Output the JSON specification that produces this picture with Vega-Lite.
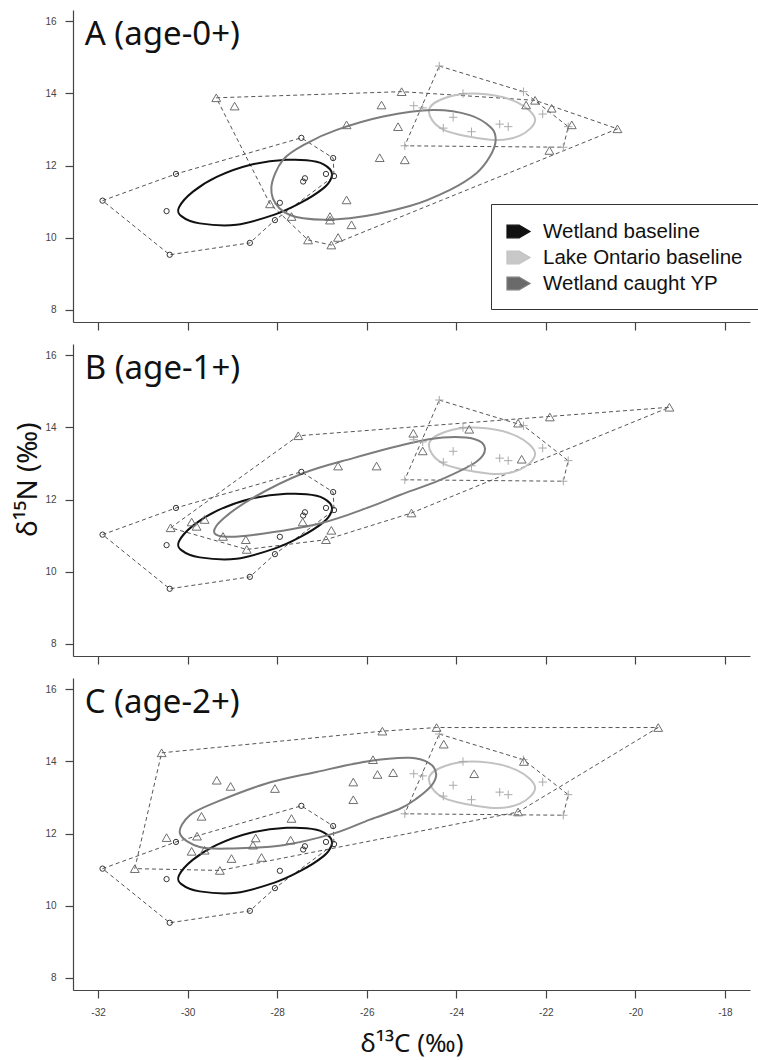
{
  "$schema": "https://vega.github.io/schema/vega-lite/v6.json",
  "background": "white",
  "padding": {"left": 14, "top": 10, "right": 0, "bottom": 4},
  "spacing": 13,
  "datasets": {
    "pts": [
      {"p":"all","g":"Wetland baseline","x":-31.90,"y":11.03},
      {"p":"all","g":"Wetland baseline","x":-30.26,"y":11.77},
      {"p":"all","g":"Wetland baseline","x":-30.47,"y":10.74},
      {"p":"all","g":"Wetland baseline","x":-30.40,"y":9.53},
      {"p":"all","g":"Wetland baseline","x":-28.61,"y":9.86},
      {"p":"all","g":"Wetland baseline","x":-28.05,"y":10.49},
      {"p":"all","g":"Wetland baseline","x":-27.94,"y":10.97},
      {"p":"all","g":"Wetland baseline","x":-27.46,"y":12.77},
      {"p":"all","g":"Wetland baseline","x":-26.75,"y":12.21},
      {"p":"all","g":"Wetland baseline","x":-26.73,"y":11.71},
      {"p":"all","g":"Wetland baseline","x":-26.91,"y":11.77},
      {"p":"all","g":"Wetland baseline","x":-27.38,"y":11.65},
      {"p":"all","g":"Wetland baseline","x":-27.42,"y":11.56},
      {"p":"all","g":"Lake Ontario baseline","x":-24.38,"y":14.76},
      {"p":"all","g":"Lake Ontario baseline","x":-22.50,"y":14.05},
      {"p":"all","g":"Lake Ontario baseline","x":-21.50,"y":13.08},
      {"p":"all","g":"Lake Ontario baseline","x":-21.61,"y":12.51},
      {"p":"all","g":"Lake Ontario baseline","x":-25.15,"y":12.55},
      {"p":"all","g":"Lake Ontario baseline","x":-23.85,"y":14.00},
      {"p":"all","g":"Lake Ontario baseline","x":-24.07,"y":13.34},
      {"p":"all","g":"Lake Ontario baseline","x":-24.29,"y":13.04},
      {"p":"all","g":"Lake Ontario baseline","x":-23.66,"y":12.94},
      {"p":"all","g":"Lake Ontario baseline","x":-23.03,"y":13.15},
      {"p":"all","g":"Lake Ontario baseline","x":-22.84,"y":13.08},
      {"p":"all","g":"Lake Ontario baseline","x":-22.07,"y":13.43},
      {"p":"all","g":"Lake Ontario baseline","x":-24.95,"y":13.66},
      {"p":"all","g":"Lake Ontario baseline","x":-24.75,"y":13.60},
      {"p":"A","g":"Wetland caught YP","x":-29.36,"y":13.88},
      {"p":"A","g":"Wetland caught YP","x":-28.95,"y":13.65},
      {"p":"A","g":"Wetland caught YP","x":-28.16,"y":10.94},
      {"p":"A","g":"Wetland caught YP","x":-27.68,"y":10.59},
      {"p":"A","g":"Wetland caught YP","x":-27.31,"y":9.94},
      {"p":"A","g":"Wetland caught YP","x":-26.79,"y":9.80},
      {"p":"A","g":"Wetland caught YP","x":-26.64,"y":10.01},
      {"p":"A","g":"Wetland caught YP","x":-26.82,"y":10.59},
      {"p":"A","g":"Wetland caught YP","x":-26.82,"y":10.49},
      {"p":"A","g":"Wetland caught YP","x":-26.34,"y":10.36},
      {"p":"A","g":"Wetland caught YP","x":-26.45,"y":11.05},
      {"p":"A","g":"Wetland caught YP","x":-26.45,"y":13.13},
      {"p":"A","g":"Wetland caught YP","x":-25.71,"y":12.22},
      {"p":"A","g":"Wetland caught YP","x":-25.15,"y":12.16},
      {"p":"A","g":"Wetland caught YP","x":-25.30,"y":13.08},
      {"p":"A","g":"Wetland caught YP","x":-25.67,"y":13.68},
      {"p":"A","g":"Wetland caught YP","x":-25.22,"y":14.05},
      {"p":"A","g":"Wetland caught YP","x":-22.44,"y":13.68},
      {"p":"A","g":"Wetland caught YP","x":-22.24,"y":13.81},
      {"p":"A","g":"Wetland caught YP","x":-21.87,"y":13.59},
      {"p":"A","g":"Wetland caught YP","x":-21.42,"y":13.13},
      {"p":"A","g":"Wetland caught YP","x":-20.40,"y":13.02},
      {"p":"A","g":"Wetland caught YP","x":-21.92,"y":12.42},
      {"p":"B","g":"Wetland caught YP","x":-27.53,"y":13.77},
      {"p":"B","g":"Wetland caught YP","x":-26.64,"y":12.93},
      {"p":"B","g":"Wetland caught YP","x":-25.78,"y":12.93},
      {"p":"B","g":"Wetland caught YP","x":-30.38,"y":11.22},
      {"p":"B","g":"Wetland caught YP","x":-29.91,"y":11.38},
      {"p":"B","g":"Wetland caught YP","x":-29.80,"y":11.26},
      {"p":"B","g":"Wetland caught YP","x":-29.62,"y":11.45},
      {"p":"B","g":"Wetland caught YP","x":-29.21,"y":10.98},
      {"p":"B","g":"Wetland caught YP","x":-28.70,"y":10.89},
      {"p":"B","g":"Wetland caught YP","x":-28.68,"y":10.62},
      {"p":"B","g":"Wetland caught YP","x":-27.43,"y":11.38},
      {"p":"B","g":"Wetland caught YP","x":-26.79,"y":11.15},
      {"p":"B","g":"Wetland caught YP","x":-26.91,"y":10.89},
      {"p":"B","g":"Wetland caught YP","x":-24.96,"y":13.84},
      {"p":"B","g":"Wetland caught YP","x":-24.75,"y":13.35},
      {"p":"B","g":"Wetland caught YP","x":-23.71,"y":13.95},
      {"p":"B","g":"Wetland caught YP","x":-22.62,"y":14.12},
      {"p":"B","g":"Wetland caught YP","x":-21.91,"y":14.29},
      {"p":"B","g":"Wetland caught YP","x":-19.24,"y":14.56},
      {"p":"B","g":"Wetland caught YP","x":-22.54,"y":13.12},
      {"p":"B","g":"Wetland caught YP","x":-25.00,"y":11.63},
      {"p":"C","g":"Wetland caught YP","x":-30.58,"y":14.24},
      {"p":"C","g":"Wetland caught YP","x":-29.35,"y":13.48},
      {"p":"C","g":"Wetland caught YP","x":-29.04,"y":13.31},
      {"p":"C","g":"Wetland caught YP","x":-28.05,"y":13.25},
      {"p":"C","g":"Wetland caught YP","x":-29.69,"y":12.48},
      {"p":"C","g":"Wetland caught YP","x":-30.47,"y":11.89},
      {"p":"C","g":"Wetland caught YP","x":-29.79,"y":11.93},
      {"p":"C","g":"Wetland caught YP","x":-29.91,"y":11.51},
      {"p":"C","g":"Wetland caught YP","x":-29.62,"y":11.54},
      {"p":"C","g":"Wetland caught YP","x":-31.18,"y":11.03},
      {"p":"C","g":"Wetland caught YP","x":-29.28,"y":10.98},
      {"p":"C","g":"Wetland caught YP","x":-29.02,"y":11.31},
      {"p":"C","g":"Wetland caught YP","x":-28.35,"y":11.34},
      {"p":"C","g":"Wetland caught YP","x":-28.48,"y":11.88},
      {"p":"C","g":"Wetland caught YP","x":-28.54,"y":11.68},
      {"p":"C","g":"Wetland caught YP","x":-27.68,"y":12.42},
      {"p":"C","g":"Wetland caught YP","x":-27.70,"y":11.82},
      {"p":"C","g":"Wetland caught YP","x":-26.30,"y":13.43},
      {"p":"C","g":"Wetland caught YP","x":-26.30,"y":12.94},
      {"p":"C","g":"Wetland caught YP","x":-25.86,"y":14.05},
      {"p":"C","g":"Wetland caught YP","x":-25.76,"y":13.64},
      {"p":"C","g":"Wetland caught YP","x":-25.41,"y":13.69},
      {"p":"C","g":"Wetland caught YP","x":-25.65,"y":14.84},
      {"p":"C","g":"Wetland caught YP","x":-24.44,"y":14.94},
      {"p":"C","g":"Wetland caught YP","x":-24.28,"y":14.48},
      {"p":"C","g":"Wetland caught YP","x":-23.60,"y":13.66},
      {"p":"C","g":"Wetland caught YP","x":-22.49,"y":14.00},
      {"p":"C","g":"Wetland caught YP","x":-19.49,"y":14.94},
      {"p":"C","g":"Wetland caught YP","x":-22.62,"y":12.60}
    ],
    "hull": [
      {"p":"all","g":"Wetland baseline","i":1,"x":-31.90,"y":11.03},
      {"p":"all","g":"Wetland baseline","i":2,"x":-30.26,"y":11.77},
      {"p":"all","g":"Wetland baseline","i":3,"x":-27.46,"y":12.77},
      {"p":"all","g":"Wetland baseline","i":4,"x":-26.75,"y":12.21},
      {"p":"all","g":"Wetland baseline","i":5,"x":-26.73,"y":11.71},
      {"p":"all","g":"Wetland baseline","i":6,"x":-28.05,"y":10.49},
      {"p":"all","g":"Wetland baseline","i":7,"x":-28.61,"y":9.86},
      {"p":"all","g":"Wetland baseline","i":8,"x":-30.40,"y":9.53},
      {"p":"all","g":"Lake Ontario baseline","i":1,"x":-24.38,"y":14.76},
      {"p":"all","g":"Lake Ontario baseline","i":2,"x":-22.50,"y":14.05},
      {"p":"all","g":"Lake Ontario baseline","i":3,"x":-21.50,"y":13.08},
      {"p":"all","g":"Lake Ontario baseline","i":4,"x":-21.61,"y":12.51},
      {"p":"all","g":"Lake Ontario baseline","i":5,"x":-25.15,"y":12.55},
      {"p":"A","g":"Wetland caught YP","i":1,"x":-29.36,"y":13.88},
      {"p":"A","g":"Wetland caught YP","i":2,"x":-25.22,"y":14.05},
      {"p":"A","g":"Wetland caught YP","i":3,"x":-22.24,"y":13.81},
      {"p":"A","g":"Wetland caught YP","i":4,"x":-20.40,"y":13.02},
      {"p":"A","g":"Wetland caught YP","i":5,"x":-26.79,"y":9.80},
      {"p":"A","g":"Wetland caught YP","i":6,"x":-27.31,"y":9.94},
      {"p":"A","g":"Wetland caught YP","i":7,"x":-28.16,"y":10.94},
      {"p":"B","g":"Wetland caught YP","i":1,"x":-30.38,"y":11.22},
      {"p":"B","g":"Wetland caught YP","i":2,"x":-27.53,"y":13.77},
      {"p":"B","g":"Wetland caught YP","i":3,"x":-19.24,"y":14.56},
      {"p":"B","g":"Wetland caught YP","i":4,"x":-25.00,"y":11.63},
      {"p":"B","g":"Wetland caught YP","i":5,"x":-26.91,"y":10.89},
      {"p":"B","g":"Wetland caught YP","i":6,"x":-28.68,"y":10.62},
      {"p":"C","g":"Wetland caught YP","i":1,"x":-31.18,"y":11.03},
      {"p":"C","g":"Wetland caught YP","i":2,"x":-30.58,"y":14.24},
      {"p":"C","g":"Wetland caught YP","i":3,"x":-25.65,"y":14.84},
      {"p":"C","g":"Wetland caught YP","i":4,"x":-24.44,"y":14.94},
      {"p":"C","g":"Wetland caught YP","i":5,"x":-19.49,"y":14.94},
      {"p":"C","g":"Wetland caught YP","i":6,"x":-22.62,"y":12.60},
      {"p":"C","g":"Wetland caught YP","i":7,"x":-29.28,"y":10.98}
    ],
    "ell": [
      {"p":"all","s":"Wetland baseline","i":1,"x":-30.19,"y":10.85},
      {"p":"all","s":"Wetland baseline","i":2,"x":-29.88,"y":11.28},
      {"p":"all","s":"Wetland baseline","i":3,"x":-29.35,"y":11.69},
      {"p":"all","s":"Wetland baseline","i":4,"x":-28.61,"y":12.02},
      {"p":"all","s":"Wetland baseline","i":5,"x":-27.79,"y":12.16},
      {"p":"all","s":"Wetland baseline","i":6,"x":-27.12,"y":12.11},
      {"p":"all","s":"Wetland baseline","i":7,"x":-26.82,"y":11.90},
      {"p":"all","s":"Wetland baseline","i":8,"x":-26.79,"y":11.66},
      {"p":"all","s":"Wetland baseline","i":9,"x":-26.97,"y":11.37},
      {"p":"all","s":"Wetland baseline","i":10,"x":-27.49,"y":10.96},
      {"p":"all","s":"Wetland baseline","i":11,"x":-28.09,"y":10.63},
      {"p":"all","s":"Wetland baseline","i":12,"x":-28.91,"y":10.36},
      {"p":"all","s":"Wetland baseline","i":13,"x":-29.73,"y":10.40},
      {"p":"all","s":"Wetland baseline","i":14,"x":-30.14,"y":10.60},
      {"p":"all","s":"Lake Ontario baseline","i":1,"x":-24.61,"y":13.53},
      {"p":"all","s":"Lake Ontario baseline","i":2,"x":-24.22,"y":13.89},
      {"p":"all","s":"Lake Ontario baseline","i":3,"x":-23.47,"y":13.99},
      {"p":"all","s":"Lake Ontario baseline","i":4,"x":-22.65,"y":13.76},
      {"p":"all","s":"Lake Ontario baseline","i":5,"x":-22.24,"y":13.28},
      {"p":"all","s":"Lake Ontario baseline","i":6,"x":-22.58,"y":12.83},
      {"p":"all","s":"Lake Ontario baseline","i":7,"x":-23.25,"y":12.72},
      {"p":"all","s":"Lake Ontario baseline","i":8,"x":-24.29,"y":13.00},
      {"p":"A","s":"Wetland caught YP","i":1,"x":-28.13,"y":11.40},
      {"p":"A","s":"Wetland caught YP","i":2,"x":-27.87,"y":12.16},
      {"p":"A","s":"Wetland caught YP","i":3,"x":-27.34,"y":12.62},
      {"p":"A","s":"Wetland caught YP","i":4,"x":-26.67,"y":12.99},
      {"p":"A","s":"Wetland caught YP","i":5,"x":-25.63,"y":13.36},
      {"p":"A","s":"Wetland caught YP","i":6,"x":-24.52,"y":13.54},
      {"p":"A","s":"Wetland caught YP","i":7,"x":-23.70,"y":13.40},
      {"p":"A","s":"Wetland caught YP","i":8,"x":-23.22,"y":13.05},
      {"p":"A","s":"Wetland caught YP","i":9,"x":-23.12,"y":12.70},
      {"p":"A","s":"Wetland caught YP","i":10,"x":-23.25,"y":12.25},
      {"p":"A","s":"Wetland caught YP","i":11,"x":-23.55,"y":11.79},
      {"p":"A","s":"Wetland caught YP","i":12,"x":-24.14,"y":11.33},
      {"p":"A","s":"Wetland caught YP","i":13,"x":-25.04,"y":10.88},
      {"p":"A","s":"Wetland caught YP","i":14,"x":-26.38,"y":10.54},
      {"p":"A","s":"Wetland caught YP","i":15,"x":-27.42,"y":10.54},
      {"p":"A","s":"Wetland caught YP","i":16,"x":-27.95,"y":10.82},
      {"p":"B","s":"Wetland caught YP","i":1,"x":-29.41,"y":11.12},
      {"p":"B","s":"Wetland caught YP","i":2,"x":-29.20,"y":11.48},
      {"p":"B","s":"Wetland caught YP","i":3,"x":-28.54,"y":12.05},
      {"p":"B","s":"Wetland caught YP","i":4,"x":-27.42,"y":12.73},
      {"p":"B","s":"Wetland caught YP","i":5,"x":-26.30,"y":13.15},
      {"p":"B","s":"Wetland caught YP","i":6,"x":-25.04,"y":13.56},
      {"p":"B","s":"Wetland caught YP","i":7,"x":-24.30,"y":13.72},
      {"p":"B","s":"Wetland caught YP","i":8,"x":-23.60,"y":13.68},
      {"p":"B","s":"Wetland caught YP","i":9,"x":-23.36,"y":13.42},
      {"p":"B","s":"Wetland caught YP","i":10,"x":-23.55,"y":13.05},
      {"p":"B","s":"Wetland caught YP","i":11,"x":-24.37,"y":12.54},
      {"p":"B","s":"Wetland caught YP","i":12,"x":-25.26,"y":12.13},
      {"p":"B","s":"Wetland caught YP","i":13,"x":-25.93,"y":11.80},
      {"p":"B","s":"Wetland caught YP","i":14,"x":-27.05,"y":11.34},
      {"p":"B","s":"Wetland caught YP","i":15,"x":-28.54,"y":11.02},
      {"p":"B","s":"Wetland caught YP","i":16,"x":-29.21,"y":10.98},
      {"p":"C","s":"Wetland caught YP","i":1,"x":-30.17,"y":12.00},
      {"p":"C","s":"Wetland caught YP","i":2,"x":-29.95,"y":12.51},
      {"p":"C","s":"Wetland caught YP","i":3,"x":-29.35,"y":12.88},
      {"p":"C","s":"Wetland caught YP","i":4,"x":-28.24,"y":13.39},
      {"p":"C","s":"Wetland caught YP","i":5,"x":-27.12,"y":13.71},
      {"p":"C","s":"Wetland caught YP","i":6,"x":-26.00,"y":14.00},
      {"p":"C","s":"Wetland caught YP","i":7,"x":-25.04,"y":14.10},
      {"p":"C","s":"Wetland caught YP","i":8,"x":-24.60,"y":13.95},
      {"p":"C","s":"Wetland caught YP","i":9,"x":-24.45,"y":13.66},
      {"p":"C","s":"Wetland caught YP","i":10,"x":-24.55,"y":13.34},
      {"p":"C","s":"Wetland caught YP","i":11,"x":-24.89,"y":12.97},
      {"p":"C","s":"Wetland caught YP","i":12,"x":-25.26,"y":12.69},
      {"p":"C","s":"Wetland caught YP","i":13,"x":-25.93,"y":12.39},
      {"p":"C","s":"Wetland caught YP","i":14,"x":-26.75,"y":12.00},
      {"p":"C","s":"Wetland caught YP","i":15,"x":-27.87,"y":11.68},
      {"p":"C","s":"Wetland caught YP","i":16,"x":-28.98,"y":11.59},
      {"p":"C","s":"Wetland caught YP","i":17,"x":-29.73,"y":11.63}
    ],
    "labels": [
      {"p":"A","label":"A (age-0+)"},
      {"p":"B","label":"B (age-1+)"},
      {"p":"C","label":"C (age-2+)"}
    ]
  },
  "vconcat": [
    {
      "width": 677, "height": 312,
      "layer": [
        {"data": {"name": "hull"}, "transform": [{"filter": "datum.p == 'all' || datum.p == 'A'"}],
         "mark": {"type": "line", "interpolate": "linear-closed", "strokeDash": [4,3], "strokeWidth": 1, "color": "#555"},
         "encoding": {
           "x": {"field": "x", "type": "quantitative", "scale": {"domain": [-32.56, -17.44], "nice": false, "zero": false}, "axis": {"values": [-32,-30,-28,-26,-24,-22,-20,-18], "labels": false, "title": null}},
           "y": {"field": "y", "type": "quantitative", "scale": {"domain": [7.667, 16.313], "nice": false, "zero": false}, "axis": {"values": [8,10,12,14,16], "title": null}},
           "detail": {"field": "g"}, "order": {"field": "i", "type": "quantitative"}}},
        {"data": {"name": "ell"}, "transform": [{"filter": "datum.p == 'all' || datum.p == 'A'"}],
         "mark": {"type": "line", "interpolate": "cardinal-closed", "strokeWidth": 2},
         "encoding": {
           "x": {"field": "x", "type": "quantitative", "scale": {"domain": [-32.56, -17.44], "nice": false, "zero": false}, "axis": {"values": [-32,-30,-28,-26,-24,-22,-20,-18], "labels": false, "title": null}},
           "y": {"field": "y", "type": "quantitative", "scale": {"domain": [7.667, 16.313], "nice": false, "zero": false}, "axis": {"values": [8,10,12,14,16], "title": null}},
           "order": {"field": "i", "type": "quantitative"},
           "color": {"field": "s", "type": "nominal",
             "scale": {"domain": ["Wetland baseline", "Lake Ontario baseline", "Wetland caught YP"], "range": ["#111111", "#c2c2c2", "#7c7c7c"]},
             "legend": {"orient": "none", "legendX": 418, "legendY": 194, "title": null,
               "symbolType": "M-1,-0.55H0.05L1,0L0.05,0.55H-1Z", "symbolSize": 529, "symbolStrokeWidth": 1.2,
               "labelFont": "Liberation Sans", "labelFontSize": 20.5, "labelColor": "#111", "labelOffset": 12, "labelLimit": 300,
               "rowPadding": 3, "padding": 15, "strokeColor": "#333", "fillColor": "white",
               "encode": {"symbols": {"update": {
                 "fill": {"signal": "datum.value == 'Wetland baseline' ? '#111111' : datum.value == 'Lake Ontario baseline' ? '#c8c8c8' : '#6a6a6a'"},
                 "stroke": {"value": "#222"}, "opacity": {"value": 1}, "fillOpacity": {"value": 1}}}}}}
         }},
        {"data": {"name": "pts"}, "transform": [{"filter": "datum.g == 'Wetland baseline'"}],
         "mark": {"type": "point", "shape": "circle", "size": 28, "filled": false, "stroke": "#333", "strokeWidth": 1, "opacity": 1},
         "encoding": {
           "x": {"field": "x", "type": "quantitative", "scale": {"domain": [-32.56, -17.44], "nice": false, "zero": false}, "axis": {"values": [-32,-30,-28,-26,-24,-22,-20,-18], "labels": false, "title": null}},
           "y": {"field": "y", "type": "quantitative", "scale": {"domain": [7.667, 16.313], "nice": false, "zero": false}, "axis": {"values": [8,10,12,14,16], "title": null}}}},
        {"data": {"name": "pts"}, "transform": [{"filter": "datum.g == 'Lake Ontario baseline'"}],
         "mark": {"type": "point", "shape": "M-1,0H1M0,-1V1", "size": 70, "filled": false, "stroke": "#aaaaaa", "strokeWidth": 1, "opacity": 1},
         "encoding": {
           "x": {"field": "x", "type": "quantitative", "scale": {"domain": [-32.56, -17.44], "nice": false, "zero": false}, "axis": {"values": [-32,-30,-28,-26,-24,-22,-20,-18], "labels": false, "title": null}},
           "y": {"field": "y", "type": "quantitative", "scale": {"domain": [7.667, 16.313], "nice": false, "zero": false}, "axis": {"values": [8,10,12,14,16], "title": null}}}},
        {"data": {"name": "pts"}, "transform": [{"filter": "datum.p == 'A'"}],
         "mark": {"type": "point", "shape": "triangle-up", "size": 78, "filled": false, "stroke": "#6e6e6e", "strokeWidth": 1, "opacity": 1},
         "encoding": {
           "x": {"field": "x", "type": "quantitative", "scale": {"domain": [-32.56, -17.44], "nice": false, "zero": false}, "axis": {"values": [-32,-30,-28,-26,-24,-22,-20,-18], "labels": false, "title": null}},
           "y": {"field": "y", "type": "quantitative", "scale": {"domain": [7.667, 16.313], "nice": false, "zero": false}, "axis": {"values": [8,10,12,14,16], "title": null}}}},
        {"data": {"name": "labels"}, "transform": [{"filter": "datum.p == 'A'"}],
         "mark": {"type": "text", "align": "left", "baseline": "alphabetic", "font": "Noto Sans", "fontSize": 33, "color": "#111"},
         "encoding": {
           "x": {"datum": -32.3, "type": "quantitative", "scale": {"domain": [-32.56, -17.44], "nice": false, "zero": false}, "axis": {"values": [-32,-30,-28,-26,-24,-22,-20,-18], "labels": false, "title": null}},
           "y": {"datum": 15.34, "type": "quantitative", "scale": {"domain": [7.667, 16.313], "nice": false, "zero": false}, "axis": {"values": [8,10,12,14,16], "title": null}},
           "text": {"field": "label"}}}
      ]
    },
    {
      "width": 677, "height": 312,
      "layer": [
        {"data": {"name": "hull"}, "transform": [{"filter": "datum.p == 'all' || datum.p == 'B'"}],
         "mark": {"type": "line", "interpolate": "linear-closed", "strokeDash": [4,3], "strokeWidth": 1, "color": "#555"},
         "encoding": {
           "x": {"field": "x", "type": "quantitative", "scale": {"domain": [-32.56, -17.44], "nice": false, "zero": false}, "axis": {"values": [-32,-30,-28,-26,-24,-22,-20,-18], "labels": false, "title": null}},
           "y": {"field": "y", "type": "quantitative", "scale": {"domain": [7.667, 16.313], "nice": false, "zero": false}, "axis": {"values": [8,10,12,14,16], "title": "δ¹⁵N (‰)", "titleFontSize": 28, "titlePadding": 2, "titleY": 135}},
           "detail": {"field": "g"}, "order": {"field": "i", "type": "quantitative"}}},
        {"data": {"name": "ell"}, "transform": [{"filter": "datum.p == 'all' || datum.p == 'B'"}],
         "mark": {"type": "line", "interpolate": "cardinal-closed", "strokeWidth": 2},
         "encoding": {
           "x": {"field": "x", "type": "quantitative", "scale": {"domain": [-32.56, -17.44], "nice": false, "zero": false}, "axis": {"values": [-32,-30,-28,-26,-24,-22,-20,-18], "labels": false, "title": null}},
           "y": {"field": "y", "type": "quantitative", "scale": {"domain": [7.667, 16.313], "nice": false, "zero": false}, "axis": {"values": [8,10,12,14,16], "title": "δ¹⁵N (‰)", "titleFontSize": 28, "titlePadding": 2, "titleY": 135}},
           "order": {"field": "i", "type": "quantitative"},
           "color": {"field": "s", "type": "nominal",
             "scale": {"domain": ["Wetland baseline", "Lake Ontario baseline", "Wetland caught YP"], "range": ["#111111", "#c2c2c2", "#7c7c7c"]},
             "legend": null}
         }},
        {"data": {"name": "pts"}, "transform": [{"filter": "datum.g == 'Wetland baseline'"}],
         "mark": {"type": "point", "shape": "circle", "size": 28, "filled": false, "stroke": "#333", "strokeWidth": 1, "opacity": 1},
         "encoding": {
           "x": {"field": "x", "type": "quantitative", "scale": {"domain": [-32.56, -17.44], "nice": false, "zero": false}, "axis": {"values": [-32,-30,-28,-26,-24,-22,-20,-18], "labels": false, "title": null}},
           "y": {"field": "y", "type": "quantitative", "scale": {"domain": [7.667, 16.313], "nice": false, "zero": false}, "axis": {"values": [8,10,12,14,16], "title": "δ¹⁵N (‰)", "titleFontSize": 28, "titlePadding": 2, "titleY": 135}}}},
        {"data": {"name": "pts"}, "transform": [{"filter": "datum.g == 'Lake Ontario baseline'"}],
         "mark": {"type": "point", "shape": "M-1,0H1M0,-1V1", "size": 70, "filled": false, "stroke": "#aaaaaa", "strokeWidth": 1, "opacity": 1},
         "encoding": {
           "x": {"field": "x", "type": "quantitative", "scale": {"domain": [-32.56, -17.44], "nice": false, "zero": false}, "axis": {"values": [-32,-30,-28,-26,-24,-22,-20,-18], "labels": false, "title": null}},
           "y": {"field": "y", "type": "quantitative", "scale": {"domain": [7.667, 16.313], "nice": false, "zero": false}, "axis": {"values": [8,10,12,14,16], "title": "δ¹⁵N (‰)", "titleFontSize": 28, "titlePadding": 2, "titleY": 135}}}},
        {"data": {"name": "pts"}, "transform": [{"filter": "datum.p == 'B'"}],
         "mark": {"type": "point", "shape": "triangle-up", "size": 78, "filled": false, "stroke": "#6e6e6e", "strokeWidth": 1, "opacity": 1},
         "encoding": {
           "x": {"field": "x", "type": "quantitative", "scale": {"domain": [-32.56, -17.44], "nice": false, "zero": false}, "axis": {"values": [-32,-30,-28,-26,-24,-22,-20,-18], "labels": false, "title": null}},
           "y": {"field": "y", "type": "quantitative", "scale": {"domain": [7.667, 16.313], "nice": false, "zero": false}, "axis": {"values": [8,10,12,14,16], "title": "δ¹⁵N (‰)", "titleFontSize": 28, "titlePadding": 2, "titleY": 135}}}},
        {"data": {"name": "labels"}, "transform": [{"filter": "datum.p == 'B'"}],
         "mark": {"type": "text", "align": "left", "baseline": "alphabetic", "font": "Noto Sans", "fontSize": 33, "color": "#111"},
         "encoding": {
           "x": {"datum": -32.3, "type": "quantitative", "scale": {"domain": [-32.56, -17.44], "nice": false, "zero": false}, "axis": {"values": [-32,-30,-28,-26,-24,-22,-20,-18], "labels": false, "title": null}},
           "y": {"datum": 15.34, "type": "quantitative", "scale": {"domain": [7.667, 16.313], "nice": false, "zero": false}, "axis": {"values": [8,10,12,14,16], "title": "δ¹⁵N (‰)", "titleFontSize": 28, "titlePadding": 2, "titleY": 135}},
           "text": {"field": "label"}}}
      ]
    },
    {
      "width": 677, "height": 312,
      "layer": [
        {"data": {"name": "hull"}, "transform": [{"filter": "datum.p == 'all' || datum.p == 'C'"}],
         "mark": {"type": "line", "interpolate": "linear-closed", "strokeDash": [4,3], "strokeWidth": 1, "color": "#555"},
         "encoding": {
           "x": {"field": "x", "type": "quantitative", "scale": {"domain": [-32.56, -17.44], "nice": false, "zero": false}, "axis": {"values": [-32,-30,-28,-26,-24,-22,-20,-18], "title": "δ¹³C (‰)", "titleFontSize": 26, "titlePadding": 13, "labelExpr": "replace(datum.label, '−', '-')"}},
           "y": {"field": "y", "type": "quantitative", "scale": {"domain": [7.667, 16.313], "nice": false, "zero": false}, "axis": {"values": [8,10,12,14,16], "title": null}},
           "detail": {"field": "g"}, "order": {"field": "i", "type": "quantitative"}}},
        {"data": {"name": "ell"}, "transform": [{"filter": "datum.p == 'all' || datum.p == 'C'"}],
         "mark": {"type": "line", "interpolate": "cardinal-closed", "strokeWidth": 2},
         "encoding": {
           "x": {"field": "x", "type": "quantitative", "scale": {"domain": [-32.56, -17.44], "nice": false, "zero": false}, "axis": {"values": [-32,-30,-28,-26,-24,-22,-20,-18], "title": "δ¹³C (‰)", "titleFontSize": 26, "titlePadding": 13, "labelExpr": "replace(datum.label, '−', '-')"}},
           "y": {"field": "y", "type": "quantitative", "scale": {"domain": [7.667, 16.313], "nice": false, "zero": false}, "axis": {"values": [8,10,12,14,16], "title": null}},
           "order": {"field": "i", "type": "quantitative"},
           "color": {"field": "s", "type": "nominal",
             "scale": {"domain": ["Wetland baseline", "Lake Ontario baseline", "Wetland caught YP"], "range": ["#111111", "#c2c2c2", "#7c7c7c"]},
             "legend": null}
         }},
        {"data": {"name": "pts"}, "transform": [{"filter": "datum.g == 'Wetland baseline'"}],
         "mark": {"type": "point", "shape": "circle", "size": 28, "filled": false, "stroke": "#333", "strokeWidth": 1, "opacity": 1},
         "encoding": {
           "x": {"field": "x", "type": "quantitative", "scale": {"domain": [-32.56, -17.44], "nice": false, "zero": false}, "axis": {"values": [-32,-30,-28,-26,-24,-22,-20,-18], "title": "δ¹³C (‰)", "titleFontSize": 26, "titlePadding": 13, "labelExpr": "replace(datum.label, '−', '-')"}},
           "y": {"field": "y", "type": "quantitative", "scale": {"domain": [7.667, 16.313], "nice": false, "zero": false}, "axis": {"values": [8,10,12,14,16], "title": null}}}},
        {"data": {"name": "pts"}, "transform": [{"filter": "datum.g == 'Lake Ontario baseline'"}],
         "mark": {"type": "point", "shape": "M-1,0H1M0,-1V1", "size": 70, "filled": false, "stroke": "#aaaaaa", "strokeWidth": 1, "opacity": 1},
         "encoding": {
           "x": {"field": "x", "type": "quantitative", "scale": {"domain": [-32.56, -17.44], "nice": false, "zero": false}, "axis": {"values": [-32,-30,-28,-26,-24,-22,-20,-18], "title": "δ¹³C (‰)", "titleFontSize": 26, "titlePadding": 13, "labelExpr": "replace(datum.label, '−', '-')"}},
           "y": {"field": "y", "type": "quantitative", "scale": {"domain": [7.667, 16.313], "nice": false, "zero": false}, "axis": {"values": [8,10,12,14,16], "title": null}}}},
        {"data": {"name": "pts"}, "transform": [{"filter": "datum.p == 'C'"}],
         "mark": {"type": "point", "shape": "triangle-up", "size": 78, "filled": false, "stroke": "#6e6e6e", "strokeWidth": 1, "opacity": 1},
         "encoding": {
           "x": {"field": "x", "type": "quantitative", "scale": {"domain": [-32.56, -17.44], "nice": false, "zero": false}, "axis": {"values": [-32,-30,-28,-26,-24,-22,-20,-18], "title": "δ¹³C (‰)", "titleFontSize": 26, "titlePadding": 13, "labelExpr": "replace(datum.label, '−', '-')"}},
           "y": {"field": "y", "type": "quantitative", "scale": {"domain": [7.667, 16.313], "nice": false, "zero": false}, "axis": {"values": [8,10,12,14,16], "title": null}}}},
        {"data": {"name": "labels"}, "transform": [{"filter": "datum.p == 'C'"}],
         "mark": {"type": "text", "align": "left", "baseline": "alphabetic", "font": "Noto Sans", "fontSize": 33, "color": "#111"},
         "encoding": {
           "x": {"datum": -32.3, "type": "quantitative", "scale": {"domain": [-32.56, -17.44], "nice": false, "zero": false}, "axis": {"values": [-32,-30,-28,-26,-24,-22,-20,-18], "title": "δ¹³C (‰)", "titleFontSize": 26, "titlePadding": 13, "labelExpr": "replace(datum.label, '−', '-')"}},
           "y": {"datum": 15.34, "type": "quantitative", "scale": {"domain": [7.667, 16.313], "nice": false, "zero": false}, "axis": {"values": [8,10,12,14,16], "title": null}},
           "text": {"field": "label"}}}
      ]
    }
  ],
  "resolve": {"scale": {"color": "independent"}, "legend": {"color": "independent"}},
  "config": {
    "view": {"stroke": null},
    "axis": {"grid": false, "domainColor": "#444", "domainWidth": 1.2, "tickColor": "#444", "tickWidth": 1.2, "tickSize": 8, "labelPadding": 9,
      "labelFont": "Liberation Sans", "labelFontSize": 10, "labelColor": "#444",
      "titleFont": "Noto Sans", "titleFontWeight": "normal", "titleFontSize": 22, "titleColor": "#111"}
  }
}
